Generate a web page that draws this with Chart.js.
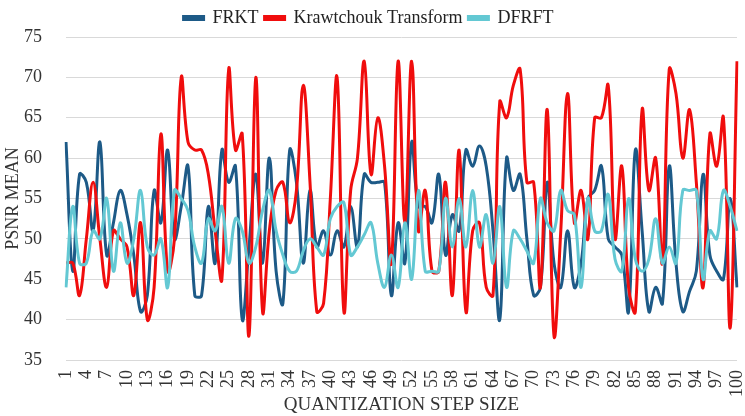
<!DOCTYPE html>
<html>
<head>
<meta charset="utf-8">
<script src="https://cdn.jsdelivr.net/npm/chart.js@4/dist/chart.umd.min.js"></script>
<style>
  html, body { margin: 0; padding: 0; background: #fff; }
  #wrap { width: 745px; height: 416px; }
</style>
</head>
<body>
<div id="wrap"><canvas id="myChart" width="745" height="416"></canvas></div>
<script>
// quantization step sizes 1..100
var steps = [];
for (var s = 1; s <= 100; s++) steps.push(String(s));

var frkt = [
  62, 46, 58, 57, 51, 62, 48, 52, 56, 53,
  48, 41, 43, 56, 52, 61, 50, 54, 59, 43,
  43, 54, 47, 61, 57, 59, 40, 49, 58, 47,
  60, 46, 42, 61, 57, 47, 56, 49, 51, 48,
  51, 49, 54, 49, 58, 57, 57, 57, 43, 52,
  47, 62, 54, 54, 52, 58, 48, 53, 51, 61,
  59, 61.5, 59, 51, 40, 60, 56, 58, 50, 43,
  44, 57, 47, 44, 51, 44, 47, 55, 56, 59,
  50, 49, 48, 41, 61, 51, 41, 44, 42, 59,
  47, 41, 43.5, 46, 58, 48, 46, 45, 55, 44
];

var krawtchouk = [
  47, 47, 43, 50, 57, 50, 44, 51, 50, 49,
  43, 52, 40, 44, 63, 46, 50, 70, 62, 61,
  61, 58, 51, 45, 71, 61, 63, 38, 70, 41,
  51, 56, 57, 52, 56, 69, 57, 41, 42, 55,
  70, 41, 56, 60, 72, 58, 65, 59, 47, 72,
  52, 72, 51, 56, 46, 46, 57, 43, 61, 41,
  51, 52, 44, 43, 67, 65, 69, 71, 57, 57,
  44, 66, 38, 51, 68, 52, 56, 50, 65, 65,
  69, 50, 59, 44, 41, 66, 56, 60, 47, 71,
  68, 60, 66, 57, 44, 63, 59, 65, 39, 72
];

var dfrft = [
  44, 54, 47, 47, 51, 50, 55, 46, 52, 47,
  50, 56, 49, 48, 50, 44, 56, 55, 53.5, 49,
  47, 52.5, 51, 54, 47, 52.5, 51, 47, 49, 53.5,
  56, 51, 48, 46, 46, 48.5, 50, 49, 48, 52.5,
  54, 54.5, 48, 49, 50.5, 52, 47, 44, 48, 44,
  52, 45, 56, 46, 46, 46, 55, 49, 55, 49,
  56, 49, 53, 47, 54, 44, 51, 50, 48.5, 47,
  55, 52, 51, 56, 53.5, 53, 44, 55, 51, 51,
  55.5, 47.5, 46, 55, 47.5, 46, 47.5, 52.5, 47, 49,
  47, 56, 56, 56, 45, 51, 50, 56, 54, 51
];

var yTicks = [35, 40, 45, 50, 55, 60, 65, 70, 75];

var serif = "'Liberation Serif', 'DejaVu Serif', serif";

var data = {
    labels: steps,
    datasets: [{
        label: "FRKT",
        data: frkt,
        borderColor: "#1d5a87",
        backgroundColor: "#1d5a87",
        order: 3
    }, {
        label: "Krawtchouk Transform",
        data: krawtchouk,
        borderColor: "#f00d0d",
        backgroundColor: "#f00d0d",
        order: 2
    }, {
        label: "DFRFT",
        data: dfrft,
        borderColor: "#63c8d3",
        backgroundColor: "#63c8d3",
        order: 1
    }]
};

var config = {
    type: 'line',
    data: data,
    options: {
        responsive: false,
        animation: false,
        layout: { padding: { left: 0, right: 8, top: 3, bottom: 0 } },
        elements: {
            line: { borderWidth: 3, tension: 0.4, fill: false },
            point: { radius: 0 }
        },
        plugins: {
            tooltip: { enabled: false },
            legend: {
                position: 'top',
                labels: {
                    font: { family: serif, size: 18 },
                    color: '#222',
                    boxWidth: 20,
                    boxHeight: 3,
                    padding: 6,
                    sort: function(a, b) { return a.datasetIndex - b.datasetIndex; }
                }
            }
        },
        scales: {
            x: {
                type: 'category',
                offset: false,
                grid: { display: false },
                border: { display: false },
                ticks: {
                    autoSkip: false,
                    minRotation: 90,
                    maxRotation: 90,
                    padding: 2,
                    color: '#333',
                    font: { family: serif, size: 18 },
                    callback: function(val, idx) {
                        return idx % 3 === 0 ? this.getLabelForValue(val) : null;
                    }
                },
                title: {
                    display: true,
                    text: 'QUANTIZATION STEP SIZE',
                    color: '#333',
                    font: { family: serif, size: 19 },
                    padding: { top: 0, bottom: 0 }
                },
                afterFit: function(scale) {
                    scale.height = 56;
                    scale.paddingLeft = 0;
                    scale.paddingRight = 0;
                }
            },
            y: {
                min: 35,
                max: 75,
                afterBuildTicks: function(scale) {
                    scale.ticks = yTicks.map(function(v) { return { value: v }; });
                },
                grid: { color: '#d9d9d9', drawTicks: false },
                border: { display: false },
                ticks: {
                    padding: 24,
                    color: '#333',
                    font: { family: serif, size: 18 }
                },
                title: {
                    display: true,
                    text: 'PSNR MEAN',
                    color: '#333',
                    font: { family: serif, size: 18 },
                    padding: { top: 2, bottom: 0 }
                },
                afterFit: function(scale) {
                    scale.width = 66;
                    scale.paddingTop = 0;
                    scale.paddingBottom = 0;
                }
            }
        }
    }
};

var myChart = new Chart(document.getElementById('myChart'), config);
</script>
</body>
</html>
